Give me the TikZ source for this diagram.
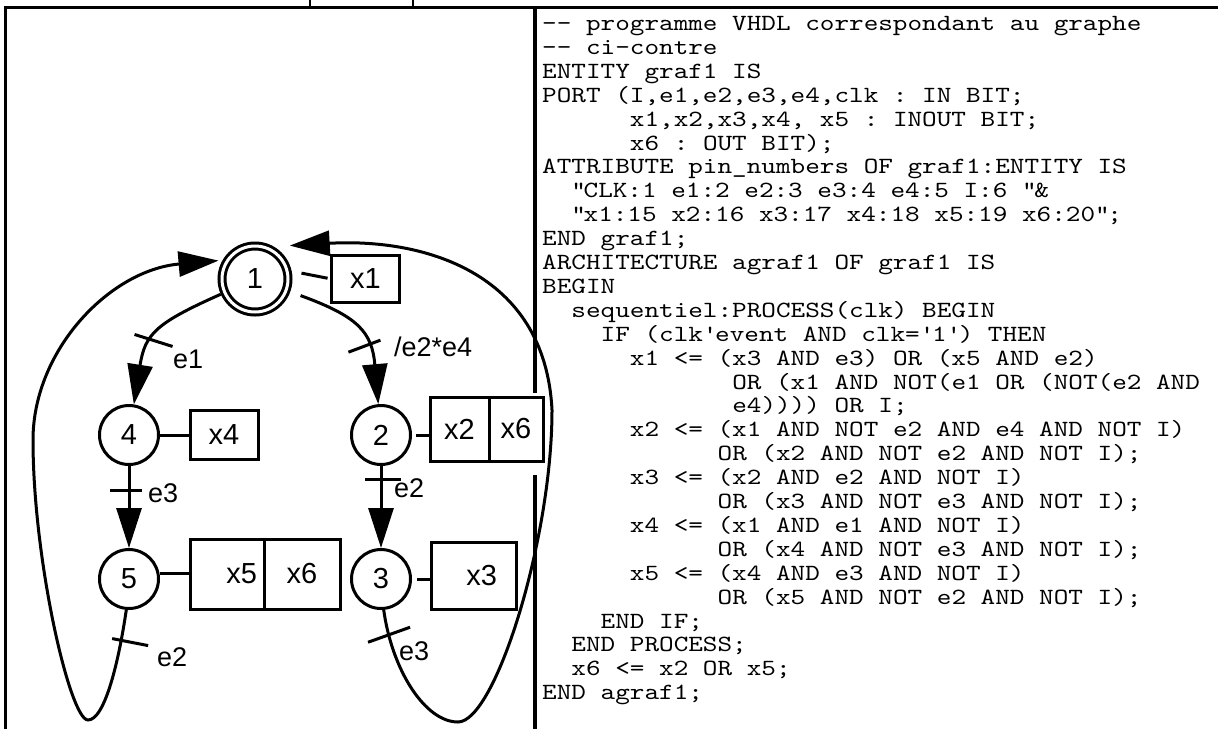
\documentclass[tikz,border=0pt]{standalone}
\usepackage{fontspec}
\setmainfont{Liberation Sans}
\setmonofont[FakeStretch=1.2]{lmmono10-regular.otf}
\usetikzlibrary{arrows.meta,positioning}

\begin{document}
\begin{tikzpicture}[x=1pt,y=1pt,every node/.style={font=\fontsize{29}{29}\selectfont},
  etape/.style={draw,circle,line width=3pt,minimum size=59pt,inner sep=0pt},
  action/.style={draw,rectangle,line width=3pt,inner sep=0pt,outer sep=0pt},
  lien/.style={line width=3pt},
  fleche/.style={line width=3pt,-{Triangle[length=40pt,width=25pt]}},
  trbar/.style={line width=3pt},
  lbl/.style={font=\fontsize{27}{27}\selectfont,inner sep=0pt,anchor=west},
  code/.style={font=\ttfamily\fontsize{23.2}{23.9}\selectfont,inner sep=0pt,anchor=base west}]
\useasboundingbox (0,0) rectangle (1218,-729);
\draw[line width=3.4pt] (3.5,-7.5) -- (1218,-7.5);
\draw[line width=3.4pt] (5.2,-7.5) -- (5.2,-729);
\draw[line width=3.2pt] (535,-7.5) -- (535,-393);
\draw[line width=3.2pt] (535,-475) -- (535,-729);
\draw[line width=2pt] (310,0) -- (310,-7.5);
\draw[line width=2pt] (413,0) -- (413,-7.5);

\node[etape,double,double distance=3pt,minimum size=66pt,outer sep=4.5pt] (s1) at (255,-279) {1};
\node[etape] (s4) at (129,-435) {4};
\node[etape] (s2) at (381,-435) {2};
\node[etape] (s5) at (129,-579) {5};
\node[etape] (s3) at (381,-579) {3};

\node[action,minimum width=68pt,minimum height=47pt,right=39pt of s1] (a1) {x1};
\node[action,minimum width=68pt,minimum height=49pt,right=30pt of s4] (a4) {x4};
\node[action,minimum width=59pt,minimum height=64pt,right=18pt of s2,yshift=6pt] (a2) {x2};
\node[action,minimum width=54pt,minimum height=64pt,right=0pt of a2] (a6) {x6};
\node[action,minimum width=74pt,minimum height=70pt,text width=60pt,align=right,inner xsep=7pt,right=30pt of s5,yshift=5pt] (a5) {x5};
\node[action,minimum width=76pt,minimum height=70pt,right=0pt of a5] (a56) {x6};
\node[action,minimum width=85pt,minimum height=67pt,text width=47pt,align=right,inner xsep=19pt,right=19pt of s3,yshift=3.5pt] (a3) {x3};

\draw[lien,shorten <=10pt,shorten >=4pt] (s1.12) -- (a1.west);
\draw[lien] (s4) -- (a4);
\draw[lien,shorten <=4pt] (s2) -- (s2 -| a2.west);
\draw[lien] (s5.10) -- (s5.10 -| a5.west);
\draw[lien,shorten <=5pt] (s3) -- (s3 -| a3.west);

\draw[fleche] (s1) to[out=204,in=81,looseness=1.3] coordinate[pos=0.55] (t14) (s4);
\draw[fleche,shorten <=11pt] (s1) to[out=-20,in=95,looseness=1.3] coordinate[pos=0.64] (t12) (s2);
\draw[fleche] (s4) -- coordinate[pos=0.3] (t45) (s5);
\draw[fleche] (s2) -- coordinate[pos=0.16] (t23) (s3);

\coordinate (lb) at (88,-720);
\coordinate (lg) at (33,-440);
\coordinate (rb) at (458,-722);
\coordinate (rg) at (552,-410);
\draw[fleche,shorten >=4pt] (s5.265) .. controls (119,-660) and (105,-720) .. coordinate[pos=0.2] (t51) (lb)
  .. controls (70,-720) and (33,-560) .. (lg) .. controls (33,-350) and (110,-270) .. (s1.150);
\draw[fleche,shorten >=16pt] (s3.275) .. controls (392,-670) and (425,-722) .. coordinate[pos=0.15] (t31) (rb)
  .. controls (495,-722) and (552,-540) .. (rg) .. controls (545,-270) and (420,-238) .. (s1.60);

\draw[trbar] (t14) ++(-19,4) -- ++(38,-12);
\draw[trbar] (t12) ++(-18,-7) -- ++(32,12);
\draw[trbar] (t45) ++(-19,0) -- ++(32,0);
\draw[trbar] (t23) ++(-16,0) -- ++(36,0);
\draw[trbar] (t51) ++(-9,2) -- ++(36,-7);
\draw[trbar] (t31) ++(-21,-6) -- ++(42,15);
\node[lbl] (l14) at (173,-359) {e1};
\node[lbl] (l12) at (394,-347) {/e2*e4};
\node[lbl] (l45) at (148,-493) {e3};
\node[lbl] (l23) at (394,-488) {e2};
\node[lbl] (l51) at (157,-657) {e2};
\node[lbl] (l31) at (399,-651) {e3};

\foreach \c/\t [count=\n] in {
  0/{-{}- programme VHDL correspondant au graphe},
  0/{-{}- ci-contre},
  0/{ENTITY graf1 IS},
  0/{PORT (I,e1,e2,e3,e4,clk : IN BIT;},
  6/{x1,x2,x3,x4, x5 : INOUT BIT;},
  6/{x6 : OUT BIT);},
  0/{ATTRIBUTE pin\_numbers OF graf1:ENTITY IS},
  2/{\textquotedbl CLK:1 e1:2 e2:3 e3:4 e4:5 I:6 \textquotedbl\&},
  2/{\textquotedbl x1:15 x2:16 x3:17 x4:18 x5:19 x6:20\textquotedbl;},
  0/{END graf1;},
  0/{ARCHITECTURE agraf1 OF graf1 IS},
  0/{BEGIN},
  2/{sequentiel:PROCESS(clk) BEGIN},
  4/{IF (clk\textquotesingle event AND clk=\textquotesingle 1\textquotesingle) THEN},
  6/{x1 <= (x3 AND e3) OR (x5 AND e2)},
  13/{OR (x1 AND NOT(e1 OR (NOT(e2 AND},
  13/{e4)))) OR I;},
  6/{x2 <= (x1 AND NOT e2 AND e4 AND NOT I)},
  12/{OR (x2 AND NOT e2 AND NOT I);},
  6/{x3 <= (x2 AND e2 AND NOT I)},
  12/{OR (x3 AND NOT e3 AND NOT I);},
  6/{x4 <= (x1 AND e1 AND NOT I)},
  12/{OR (x4 AND NOT e3 AND NOT I);},
  6/{x5 <= (x4 AND e3 AND NOT I)},
  12/{OR (x5 AND NOT e2 AND NOT I);},
  4/{END IF;},
  2/{END PROCESS;},
  2/{x6 <= x2 OR x5;},
  0/{END agraf1;}}
  \node[code] (v\n) at ({542+\c*14.62},{-30.5-(\n-1)*23.9}) {\t};
\end{tikzpicture}
\end{document}
